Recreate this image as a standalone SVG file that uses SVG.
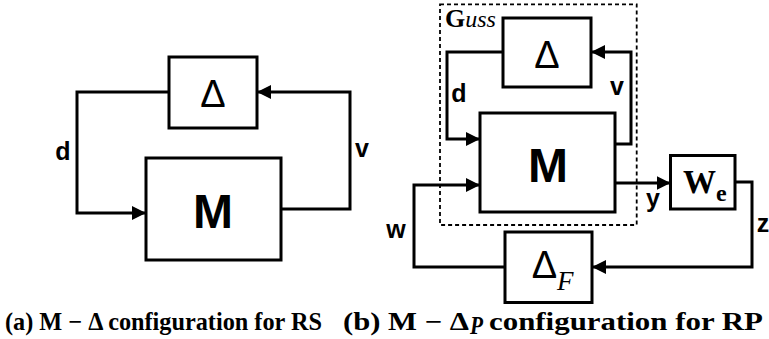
<svg xmlns="http://www.w3.org/2000/svg" width="769" height="339" viewBox="0 0 769 339">
<style>
.box{fill:#fff;stroke:#000;stroke-width:3}
.wire{fill:none;stroke:#000;stroke-width:3;stroke-linejoin:miter}
.arr{marker-end:url(#ah)}
.lbl{font-weight:bold;font-size:25px;fill:#000;text-anchor:middle}
.big{font-weight:bold;font-size:48px;fill:#000;text-anchor:middle}
.del{font-size:38px;fill:#000;text-anchor:middle}
.ser{fill:#000}
.cap{font-weight:bold;font-size:25px;fill:#000}
</style>
<defs>
<marker id="ah" markerUnits="userSpaceOnUse" markerWidth="14" markerHeight="14" viewBox="0 0 14 14" refX="14" refY="7" orient="auto">
<path d="M0,0 L14,7 L0,14 z" fill="#000"/>
</marker>
</defs>
<rect width="769" height="339" fill="#fff"/>

<g id="connectors">
<path class="wire arr" d="M169,92 H77 V213 H146"/>
<path class="wire arr" d="M281,209 H350 V92 H257"/>
<path class="wire arr" d="M503,52 H447 V139 H480"/>
<path class="wire arr" d="M615,144 H631 V52 H591"/>
<path class="wire arr" d="M505,267 H414 V185 H480"/>
<path class="wire arr" d="M615,183 H670.5"/>
<path class="wire arr" d="M735,182 H752 V267 H592"/>
</g>

<g id="left-delta">
<rect class="box" x="169" y="57" width="88" height="71"/>
<text class="del" font-family="Liberation Sans, Arial, sans-serif" x="213" y="107">Δ</text>
</g>
<g id="left-M">
<rect class="box" x="146" y="158" width="135" height="102"/>
<text class="big" font-family="Liberation Sans, Arial, sans-serif" x="213" y="228">M</text>
</g>
<g id="left-labels" font-family="Liberation Sans, Arial, sans-serif">
<text class="lbl" x="63" y="160">d</text>
<text class="lbl" x="362" y="157">v</text>
</g>

<g id="G-uss">
<rect x="440" y="4.3" width="196.7" height="220.7" fill="none" stroke="#000" stroke-width="1.8" stroke-dasharray="4 3"/>
<text class="ser" font-family="Liberation Serif, Times New Roman, serif" x="445" y="27" font-size="26" font-weight="bold">G<tspan font-weight="normal" font-style="italic" font-size="24">uss</tspan></text>
</g>
<g id="right-delta">
<rect class="box" x="503" y="18" width="88" height="69"/>
<text class="del" font-family="Liberation Sans, Arial, sans-serif" x="547" y="68">Δ</text>
</g>
<g id="right-M">
<rect class="box" x="480" y="113" width="135" height="99"/>
<text class="big" font-family="Liberation Sans, Arial, sans-serif" x="548" y="182">M</text>
</g>
<g id="We">
<rect class="box" x="670.5" y="155.5" width="64.5" height="53.5"/>
<text class="ser" font-family="Liberation Serif, Times New Roman, serif" x="683" y="193" font-size="33" font-weight="bold">W<tspan font-size="24" y="201">e</tspan></text>
</g>
<g id="delta-F">
<rect class="box" x="505" y="232" width="87" height="70.5"/>
<text class="del" font-family="Liberation Sans, Arial, sans-serif" x="544.5" y="278" font-size="37">Δ</text>
<text class="ser" font-family="Liberation Serif, Times New Roman, serif" x="557" y="290" font-size="27" font-style="italic">F</text>
</g>
<g id="right-labels" font-family="Liberation Sans, Arial, sans-serif">
<text class="lbl" x="459" y="102">d</text>
<text class="lbl" x="617" y="95">v</text>
<text class="lbl" x="396" y="238">w</text>
<text class="lbl" x="653" y="207">y</text>
<text class="lbl" x="763" y="232">z</text>
</g>

<g id="captions" font-family="Liberation Serif, Times New Roman, serif">
<text class="cap" x="5" y="330" textLength="317" lengthAdjust="spacingAndGlyphs">(a) M − Δ configuration for RS</text>
<text class="cap" x="343" y="330" textLength="126" lengthAdjust="spacingAndGlyphs">(b) M − Δ</text>
<text class="cap" x="470" y="334" font-size="17" font-style="italic" textLength="13" lengthAdjust="spacingAndGlyphs">P</text>
<text class="cap" x="489" y="330" textLength="274" lengthAdjust="spacingAndGlyphs">configuration for RP</text>
</g>
</svg>
